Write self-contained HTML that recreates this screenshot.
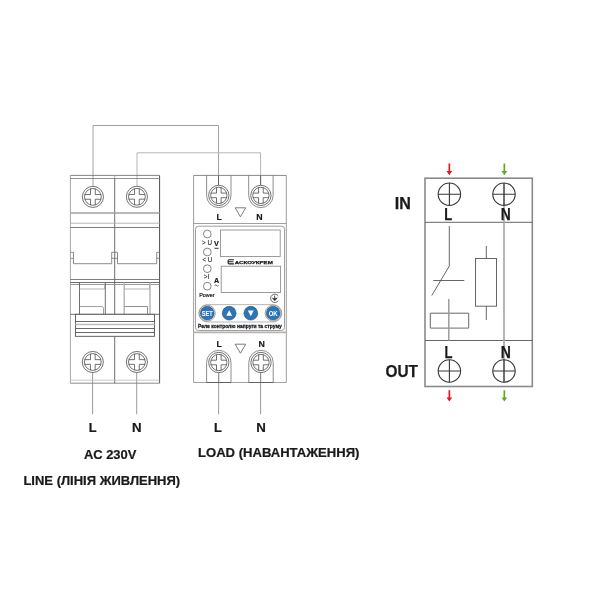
<!DOCTYPE html>
<html><head><meta charset="utf-8"><title>Wiring diagram</title>
<style>
html,body{margin:0;padding:0;background:#fff;}
body{width:600px;height:600px;overflow:hidden;font-family:"Liberation Sans",sans-serif;}
svg{display:block;mix-blend-mode:multiply;}
text{font-family:"Liberation Sans",sans-serif;fill:#1a1a1a;}
.b{font-weight:bold;}
</style></head><body>
<svg width="600" height="600" viewBox="0 0 600 600">
<rect width="600" height="600" fill="#fff"/>
<defs>
<g id="screw" fill="none" stroke="#4c4c4c" stroke-width="0.8"><circle r="10.55" fill="#fff"/><circle r="8.4"/><path d="M2.35 8.06L2.35 2.35L8.06 2.35M2.35 -8.06L2.35 -2.35L8.06 -2.35M-2.35 8.06L-2.35 2.35L-8.06 2.35M-2.35 -8.06L-2.35 -2.35L-8.06 -2.35"/></g>
<g id="screw2" fill="none" stroke="#4c4c4c" stroke-width="0.8"><circle r="10.15" fill="#fff"/><circle r="8.15"/><path d="M2.30 7.82L2.30 2.30L7.82 2.30M2.30 -7.82L2.30 -2.30L7.82 -2.30M-2.30 7.82L-2.30 2.30L-7.82 2.30M-2.30 -7.82L-2.30 -2.30L-7.82 -2.30"/></g>
<g id="term" fill="none" stroke="#383838" stroke-width="1.1"><circle r="11.2"/><path d="M-11.2 0H11.2M0 -11.2V11.2"/></g>
</defs>

<!-- ============ top wires ============ -->
<g fill="none" stroke="#9a9a9a" stroke-width="1">
<path d="M93 186.5V125.5H218.5V185" stroke="#a2a2a2"/>
<path d="M137 186.5V152.8H260.6V185" stroke="#b6b6b6"/>
<path d="M218.5 175.4V185.2M260.6 175.4V185.2M218.65 372.7V382.5M260.6 372.7V382.5" stroke="#5a5a5a" stroke-width="0.9"/>
<path d="M92.6 372.5V414.3M136.7 372.5V414.3M218.65 373V414.3M260.6 373V414.3"/>
</g>

<!-- ============ circuit breaker ============ -->
<g id="breaker" fill="none" stroke="#5c5c5c" stroke-width="0.85">
<path d="M70.4 175.4V383.2" stroke="#999"/>
<path d="M159.6 175.4V383.2" stroke="#444" stroke-width="0.95"/>
<path d="M70.4 175.4H159.6" stroke="#6e6e6e"/>
<path d="M70.4 383.2H159.6" stroke="#8a8a8a" stroke-width="1"/>
<path d="M70.4 178.5H159.6" stroke="#808080"/>
<path d="M114.7 175.4V178.5" stroke="#999"/>
<path d="M114.7 178.5V314.3M114.7 336.3V383.2" stroke="#555"/>
<path d="M70.4 213H159.6" stroke="#a0a0a0" stroke-width="1.4"/>
<path d="M70.4 223.2H159.6" stroke="#aaa"/>
<path d="M70.4 227.5H159.6" stroke="#666"/>
<!-- notches -->
<path d="M70.4 252.3H73.5V263.7H111.7V252.3H117.5V263.7H156.7V252.3H159.6" stroke="#777"/>
<path d="M70.4 258.3H73.5M111.7 258.3H117.5M156.7 258.3H159.6" stroke="#777"/>
<path d="M70.4 279.5H159.6" stroke="#666"/>
<path d="M70.4 282.5H159.6" stroke="#555"/>
<path d="M70.4 284.5H159.6" stroke="#888"/>
<!-- handles -->
<path d="M79.5 282.5V314.3M105.3 282.5V314.3" stroke="#555"/>
<path d="M79.5 289H104.5V284.5" stroke="#a5a5a5"/>
<path d="M79.5 306.5H101.5Q103.5 306.5 103.5 308.5V314.3" stroke="#909090"/>
<path d="M124.2 282.5V314.3M150 282.5V314.3" stroke="#b4b4b4" stroke-width="1.4"/>
<path d="M124.2 289H149.5V284.5" stroke="#a5a5a5"/>
<path d="M124.2 306.5H147.5V314.3" stroke="#7a7a7a"/>
<!-- bar -->
<path d="M70.4 314.3H159.6" stroke="#555"/>
<rect x="75.4" y="314.3" width="79.1" height="22" fill="#fff" stroke="#4a4a4a"/>
<path d="M75.4 321.5H154.5M75.4 328.5H154.5M75.4 332.5H154.5" stroke="#4d4d4d"/>
<path d="M75.4 324.4H154.5" stroke="#bbb" stroke-width="1.5"/>
<path d="M70.4 380.2H159.6" stroke="#bdbdbd" stroke-width="0.8"/>
</g>
<use href="#screw" x="92.9" y="196.9"/>
<use href="#screw" x="136.9" y="196.8"/>
<use href="#screw" x="92.8" y="362"/>
<use href="#screw" x="136.9" y="362"/>

<!-- ============ relay device ============ -->
<g id="relay" fill="none" stroke="#555" stroke-width="0.85">
<path d="M193.6 175.4V382.5" stroke="#8e8e8e"/>
<path d="M286.3 175.4V382.5" stroke="#8a8a8a"/>
<path d="M193.6 175.4H286.3" stroke="#727272"/>
<path d="M193.6 382.5H286.3" stroke="#a2a2a2" stroke-width="1.1"/>
<path d="M206.6 382.5H231M248.8 382.5H273.2" stroke="#555"/>
<!-- terminal slots -->
<path d="M206.6 175.4V195.4A12.2 12.2 0 0 0 231 195.4V175.4" stroke="#787878"/>
<path d="M248.7 175.4V195.4A12.2 12.2 0 0 0 273.1 195.4V175.4" stroke="#787878"/>
<path d="M206.6 382.5V362.5A12.2 12.2 0 0 1 231 362.5V382.5" stroke="#787878"/>
<path d="M248.8 382.5V362.5A12.2 12.2 0 0 1 273.2 362.5V382.5" stroke="#787878"/>
<path d="M235.2 207.8H245.7L240.4 216.8Z" stroke="#666"/>
<path d="M235.2 344.2H245.7L240.4 353.2Z" stroke="#666"/>
<!-- face plate -->
<path d="M193.6 223.5H286.3" stroke="#a0a0a0" stroke-width="1.1"/>
<path d="M193.6 332.4H286.3" stroke="#b4b4b4" stroke-width="1.6"/>
<rect x="195.5" y="226.2" width="89" height="104.3" rx="3" stroke="#8e8e8e"/>
<!-- displays -->
<rect x="220.4" y="230" width="59.8" height="26.5" stroke="#8a8a8a"/>
<rect x="221.2" y="266.2" width="59.4" height="26.3" stroke="#8a8a8a"/>
<!-- leds -->
<circle cx="207.3" cy="234" r="3.85" stroke="#666" stroke-width="0.8"/>
<circle cx="207.3" cy="252" r="3.85" stroke="#666" stroke-width="0.8"/>
<circle cx="207.3" cy="268.7" r="3.85" stroke="#666" stroke-width="0.8"/>
<circle cx="207.3" cy="286.2" r="3.85" stroke="#666" stroke-width="0.8"/>
<!-- button strip -->
<rect x="198.8" y="304.6" width="83" height="17.4" rx="8.7" stroke="#aaa49d" stroke-width="0.8"/>
<!-- earth symbol -->
<path d="M278.3 296A4.2 4.2 0 1 0 278.3 300.7" stroke="#444" stroke-width="0.8"/>
<path d="M274.7 295.5V299" stroke="#333" stroke-width="0.9"/>
<path d="M272.1 297.9L274.7 298.5L277.6 297.7L274.7 301Z" fill="#333" stroke="#333" stroke-width="0.3"/>
</g>
<use href="#screw2" x="218.8" y="195.4"/>
<use href="#screw2" x="260.9" y="195.4"/>
<use href="#screw2" x="218.8" y="362.5"/>
<use href="#screw2" x="261" y="362.5"/>

<!-- buttons -->
<g>
<circle cx="207.2" cy="313.2" r="8.05" fill="#fff" stroke="#555" stroke-width="0.55"/>
<circle cx="273.2" cy="313.2" r="8.05" fill="#fff" stroke="#555" stroke-width="0.55"/>
<g fill="#2a76bb" stroke="#333" stroke-width="0.5">
<circle cx="207.2" cy="313.2" r="6.9"/>
<circle cx="229.2" cy="313.2" r="6.9"/>
<circle cx="250.8" cy="313.2" r="6.9"/>
<circle cx="273.2" cy="313.2" r="6.9"/>
</g>
<path d="M226.3 315.8H232.1L229.2 310.2Z" fill="#fff"/>
<path d="M247.9 310.6H253.7L250.8 316.2Z" fill="#fff"/>
<text x="201.75" y="315.7" class="b" font-size="6.6" textLength="11" lengthAdjust="spacingAndGlyphs" style="fill:#fff">SET</text>
<text x="268.7" y="315.7" class="b" font-size="6.6" textLength="9" lengthAdjust="spacingAndGlyphs" style="fill:#fff">OK</text>
</g>

<!-- relay small text -->
<g stroke="#1a1a1a" stroke-width="0.18">
<text x="202.1" y="244.6" font-size="6.4" textLength="9.9" lengthAdjust="spacingAndGlyphs" stroke-width="0.08">&gt; U</text>
<text x="202.6" y="261.9" font-size="6.4" textLength="9.6" lengthAdjust="spacingAndGlyphs" stroke-width="0.08">&lt; U</text>
<text x="203.8" y="278.7" font-size="6.6" textLength="5.4" lengthAdjust="spacingAndGlyphs" stroke-width="0.08">&gt;I</text>
<text x="199.2" y="296.8" font-size="5.6" textLength="15.4" lengthAdjust="spacingAndGlyphs">Power</text>
<text x="216.5" y="246" class="b" font-size="7.2" text-anchor="middle">V</text>
<path d="M214.5 248.3H218.6" stroke="#222" stroke-width="0.9"/>
<text x="216.5" y="283" class="b" font-size="7.2" text-anchor="middle">A</text>
<path d="M214.6 285.5q1-1.1 2 0t2 0" stroke="#333" stroke-width="0.8" fill="none"/>
<!-- logo -->
<path d="M233.9 259.7H229.2Q228.1 259.7 228.1 260.8V262.7Q228.1 263.8 229.2 263.8H233.9M228.6 261.75H233.4" stroke="#222" stroke-width="1.15" fill="none"/>
<text x="234.8" y="264.3" class="b" font-size="4.4" textLength="38" lengthAdjust="spacingAndGlyphs" stroke="#1a1a1a" stroke-width="0.25">АСКОУКРЕМ</text>
<text x="198" y="328.3" class="b" font-size="5.7" textLength="83.8" lengthAdjust="spacingAndGlyphs" stroke-width="0.28">Реле контролю напруги та струму</text>
<text x="216.53" y="220.0" class="b" font-size="9.5" textLength="5.40" lengthAdjust="spacingAndGlyphs">L</text>
<text x="256.13" y="220.0" class="b" font-size="9.5" textLength="6.38" lengthAdjust="spacingAndGlyphs">N</text>
<text x="216.53" y="347.2" class="b" font-size="9.5" textLength="5.40" lengthAdjust="spacingAndGlyphs">L</text>
<text x="258.53" y="347.2" class="b" font-size="9.5" textLength="6.38" lengthAdjust="spacingAndGlyphs">N</text>
</g>

<!-- bottom labels -->
<g class="b" stroke="#1a1a1a" stroke-width="0.22">
<text x="88.7" y="432.4" font-size="12.8">L</text>
<text x="131.9" y="432.4" font-size="12.8" textLength="9.6" lengthAdjust="spacingAndGlyphs">N</text>
<text x="214" y="432.4" font-size="12.8">L</text>
<text x="256.3" y="432.4" font-size="12.8" textLength="9.6" lengthAdjust="spacingAndGlyphs">N</text>
<text x="83.9" y="458.7" font-size="13.2" textLength="52.5" lengthAdjust="spacingAndGlyphs">AC 230V</text>
<text x="23.4" y="484.7" font-size="13.2" textLength="156.8" lengthAdjust="spacingAndGlyphs">LINE (ЛІНІЯ ЖИВЛЕННЯ)</text>
<text x="198" y="457" font-size="13" textLength="161.4" lengthAdjust="spacingAndGlyphs">LOAD (НАВАНТАЖЕННЯ)</text>
</g>

<!-- ============ schematic on the right ============ -->
<g fill="none" stroke="#8a8a8a" stroke-width="1.6">
<rect x="425" y="178.2" width="107.3" height="208.3"/>
</g>
<g fill="none" stroke="#565656" stroke-width="0.9">
<path d="M425 222.3H532.3M425 340.5H532.3" stroke="#666" stroke-width="1"/>
<path d="M449.3 226V266L431.8 295.5M433.3 280.5H464.3"/>
<rect x="475.5" y="258.5" width="21" height="47.7"/>
<path d="M486.3 246V258.5M486.3 306.2V320"/>
<path d="M430.3 328V313.2H468.7V328"/><path d="M430.3 328.1H468.7" stroke="#8c8c8c" stroke-width="1.3"/>
</g>
<path d="M448.8 299V340.5" stroke="#9c9c9c" stroke-width="1.5" fill="none"/>
<path d="M504 183V382.2" stroke="#a8a8a8" stroke-width="1.7" fill="none"/>
<use href="#term" x="449.4" y="194.2"/>
<use href="#term" x="504" y="194.2"/>
<use href="#term" x="449.4" y="371"/>
<use href="#term" x="504" y="371"/>
<g class="b" stroke="#1a1a1a" stroke-width="0.25">
<text x="444.3" y="220.1" font-size="16.1" textLength="7.97" lengthAdjust="spacingAndGlyphs">L</text>
<text x="500.75" y="220" font-size="16.1" textLength="10" lengthAdjust="spacingAndGlyphs">N</text>
<text x="444.4" y="357.8" font-size="16.1" textLength="7.97" lengthAdjust="spacingAndGlyphs">L</text>
<text x="500.7" y="357.8" font-size="16.1" textLength="10.1" lengthAdjust="spacingAndGlyphs">N</text>
<text x="394.7" y="209" font-size="16.1" textLength="16.1" lengthAdjust="spacingAndGlyphs">IN</text>
<text x="385.5" y="376.5" font-size="16.1" textLength="32.45" lengthAdjust="spacingAndGlyphs">OUT</text>
</g>
<!-- arrows -->
<g fill="#e2191d" stroke="none">
<path d="M448.5 163.5H450.2V171H452.2L449.35 175.2L446.5 171H448.5Z"/>
<path d="M448.5 390.2H450.2V397.5H452.2L449.35 401.6L446.5 397.5H448.5Z"/>
</g>
<g fill="#5fa927" stroke="none">
<path d="M503.5 163.5H505.2V171H507.2L504.35 175.2L501.5 171H503.5Z"/>
<path d="M503.5 390.2H505.2V397.5H507.2L504.35 401.6L501.5 397.5H503.5Z"/>
</g>
</svg>
</body></html>
